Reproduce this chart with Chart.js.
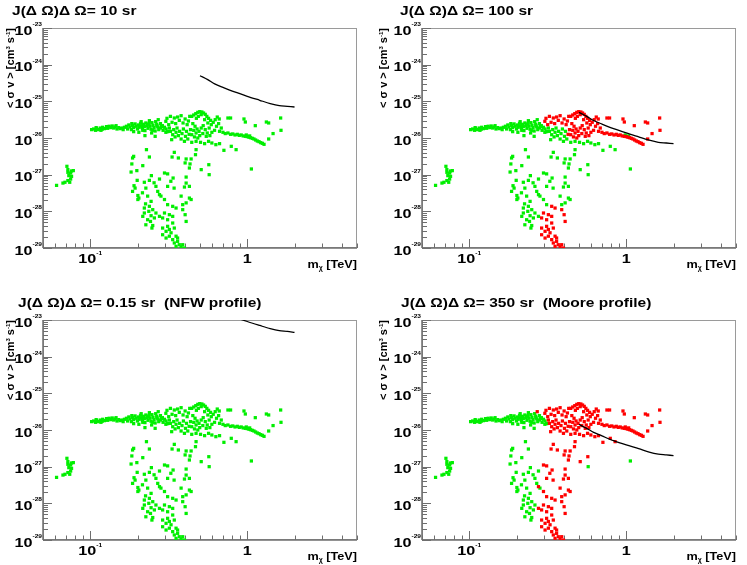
<!DOCTYPE html>
<html lang="en">
<head>
<meta charset="UTF-8">
<title>Annihilation cross section vs mass</title>
<script src="https://cdn.jsdelivr.net/npm/chart.js"></script>
<style>
  body { margin: 0; background: #fff; }
  #wrap { position: relative; width: 747px; height: 565px; }
  canvas { position: absolute; }
</style>
</head>
<body>
<div id="wrap">
  <canvas id="p10" width="373" height="280" style="left:0;top:0"></canvas>
  <canvas id="p100" width="374" height="280" style="left:373px;top:0"></canvas>
  <canvas id="p015" width="373" height="285" style="left:0;top:280px"></canvas>
  <canvas id="p350" width="374" height="285" style="left:373px;top:280px"></canvas>
</div>
<script>
// model points [m_chi (TeV), <sigma v> (cm^3 s^-1)]
// green in every panel
const greenAll = [
  [0.061,5.1e-28],[0.067,5.9e-28],[0.069,6.2e-28],[0.071,1.69e-27],[0.072,1.16e-27],[0.073,9.4e-28],
  [0.075,1.11e-27],[0.076,1.26e-27],[0.078,1.29e-27],[0.072,6.9e-28],[0.075,7.6e-28],[0.076,9.0e-28],
  [0.074,6.2e-28],[0.072,1.37e-27],
  [0.102,1.69e-26],[0.105,1.76e-26],[0.108,1.62e-26],[0.110,1.84e-26],[0.113,1.69e-26],[0.116,1.87e-26],
  [0.119,1.73e-26],[0.120,1.96e-26],[0.123,1.80e-26],[0.127,2.04e-26],[0.129,1.84e-26],[0.132,2.09e-26],
  [0.135,1.92e-26],[0.138,2.13e-26],[0.141,1.87e-26],[0.144,2.00e-26],[0.148,1.76e-26],[0.152,1.92e-26],
  [0.155,1.80e-26],[0.160,1.87e-26],[0.165,1.96e-26],[0.170,2.09e-26],[0.173,1.76e-26],[0.176,2.27e-26],
  [0.179,2.00e-26],[0.183,1.69e-26],[0.186,2.22e-26],[0.189,1.92e-26],[0.193,2.42e-26],[0.196,2.09e-26],
  [0.200,1.76e-26],[0.203,2.27e-26],[0.205,1.96e-26],[0.209,2.52e-26],[0.212,2.13e-26],[0.215,1.80e-26],
  [0.218,2.37e-26],[0.221,2.04e-26],[0.223,1.59e-26],[0.226,2.57e-26],[0.230,2.17e-26],[0.233,1.84e-26],
  [0.237,2.47e-26],[0.240,2.09e-26],[0.244,1.73e-26],[0.247,2.62e-26],[0.251,2.22e-26],[0.255,1.92e-26],
  [0.259,1.55e-26],[0.261,2.79e-26],[0.265,2.37e-26],[0.269,2.00e-26],[0.273,1.69e-26],[0.223,1.16e-26],
  [0.259,1.11e-26],[0.246,1.37e-26],[0.204,1.43e-26],[0.189,1.49e-26],[0.238,2.97e-26],[0.211,2.79e-26],
  [0.109,1.92e-26],[0.117,1.62e-26],[0.146,2.17e-26],[0.162,1.69e-26],[0.184,2.47e-26],[0.216,1.62e-26],
  [0.232,2.37e-26],[0.250,1.62e-26],[0.266,2.17e-26],[0.280,1.87e-26],[0.280,2.47e-26],[0.284,2.05e-26],
  [0.288,2.17e-26],[0.291,1.62e-26],[0.297,1.96e-26],[0.304,1.76e-26],[0.311,1.49e-26],[0.303,1.43e-26],
  [0.228,4.81e-27],[0.189,3.16e-27],[0.186,2.85e-27],[0.184,1.96e-27],[0.182,1.18e-27],[0.198,1.29e-27],
  [0.238,3.03e-27],[0.216,1.76e-27],[0.245,9.4e-28],[0.199,7.0e-28],[0.193,4.3e-28],[0.186,3.5e-28],
  [0.201,2.7e-28],[0.204,2.3e-28],[0.238,7.0e-28],[0.276,7.6e-28],[0.226,4.3e-28],[0.262,4.8e-28],
  [0.269,3.5e-28],[0.201,2.1e-28],[0.232,2.6e-28],[0.244,1.87e-28],[0.238,1.37e-28],[0.221,1.23e-28],
  [0.250,1.11e-28],[0.236,1.0e-28],[0.216,7.3e-29],[0.244,7.6e-29],[0.232,5.9e-29],[0.256,6.6e-29],
  [0.226,4.3e-29],[0.250,4.1e-29],[0.247,3.5e-29],[0.282,2.6e-28],[0.221,9.0e-29],[0.242,5.3e-29],
  [0.262,9.0e-29],[0.190,5.0e-28],[0.221,6.2e-28],[0.255,6.0e-28],[0.215,3.2e-28],[0.225,1.6e-28],
  [0.572,1.0e-27],[1.062,1.43e-27]
];
// red only at 350 sr
const red350 = [
  [0.319,1.87e-26],[0.324,1.52e-26],[0.330,9.0e-27],[0.335,1.23e-26],[0.340,1.69e-26],[0.347,1.07e-26],
  [0.352,1.43e-26],[0.357,1.87e-26],[0.364,1.16e-26],[0.371,1.52e-26],[0.379,9.39e-27],[0.384,1.32e-26],
  [0.392,1.76e-26],[0.398,8.11e-27],[0.404,1.11e-26],[0.410,1.52e-26],[0.418,9.39e-27],[0.443,7.62e-27],
  [0.504,7.62e-27],[0.535,7.01e-27],[0.567,8.11e-27],[0.595,7.31e-27],[0.631,6.58e-27],[0.666,7.01e-27],
  [0.472,8.11e-27],[0.986,1.21e-26],[1.036,1.14e-26],[0.849,4.81e-27],[0.710,4.61e-27],[0.791,5.93e-27],
  [0.271,3.16e-26],
  [0.332,3.03e-27],[0.343,4.06e-27],[0.364,2.85e-27],[0.408,2.68e-27],[0.439,2.68e-27],[0.468,3.51e-27],
  [0.472,4.81e-27],[0.402,2.09e-27],[0.428,1.52e-27],[0.432,1.96e-27],[0.569,1.87e-27],[0.509,1.37e-27],
  [0.297,1.11e-27],[0.311,1.05e-27],[0.337,8.1e-28],[0.408,8.6e-28],[0.408,5.9e-28],[0.398,4.6e-28],
  [0.428,4.8e-28],[0.311,4.8e-28],[0.276,2.85e-28],[0.297,2.1e-28],[0.311,1.52e-28],[0.388,1.52e-28],
  [0.408,1.7e-28],[0.428,2.3e-28],[0.439,2.1e-28],[0.379,2.6e-28],[0.276,7.3e-29],[0.326,6.6e-28],
  [0.342,4.3e-28]
];
// red at 100 sr and 350 sr
const red100 = [
  [0.303,2.85e-26],[0.308,3.44e-26],[0.316,2.31e-26],[0.324,3.89e-26],[0.332,2.68e-26],[0.343,3.51e-26],
  [0.350,2.47e-26],[0.360,3.73e-26],[0.369,3.03e-26],[0.379,4.06e-26],[0.390,2.57e-26],[0.402,3.30e-26],
  [0.414,2.31e-26],[0.422,2.91e-26],[0.430,3.89e-26],[0.426,1.26e-26],[0.435,1.69e-26],
  [0.443,3.89e-26],[0.456,4.24e-26],[0.470,4.61e-26],[0.484,5.01e-26],[0.498,5.23e-26],[0.514,5.12e-26],
  [0.527,4.80e-26],[0.540,4.41e-26],[0.509,4.33e-26],[0.488,3.89e-26],[0.474,3.44e-26],[0.553,3.89e-26],
  [0.567,3.44e-26],[0.584,3.03e-26],[0.561,2.57e-26],[0.535,3.16e-26],
  [0.450,2.47e-26],[0.465,2.09e-26],[0.479,1.76e-26],[0.493,1.52e-26],[0.509,1.87e-26],[0.524,2.17e-26],
  [0.540,1.69e-26],[0.556,1.37e-26],[0.572,1.87e-26],[0.590,2.31e-26],[0.607,2.68e-26],[0.625,3.16e-26],
  [0.637,2.09e-26],[0.657,2.47e-26],[0.619,1.62e-26],[0.595,1.43e-26],[0.578,1.16e-26],[0.548,1.11e-26],
  [0.521,1.32e-26],[0.498,1.16e-26],[0.472,1.37e-26],[0.456,1.62e-26],[0.443,1.23e-26],[0.461,1.07e-26],
  [0.484,1.0e-26],[0.666,1.52e-26],[0.683,1.87e-26],
  [0.700,1.43e-26],[0.724,1.32e-26],[0.753,1.37e-26],[0.783,1.26e-26],[0.809,1.29e-26],[0.836,1.21e-26],
  [0.864,1.26e-26],[0.888,1.18e-26],[0.915,1.21e-26],[0.942,1.14e-26],[0.972,1.11e-26],[1.000,1.09e-26],
  [1.025,1.05e-26],[1.051,1.02e-26],[1.077,9.79e-27],[1.103,9.39e-27],[1.131,8.82e-27],[1.159,8.28e-27],
  [1.188,7.94e-27],[1.218,7.46e-27],[1.248,7.16e-27],[1.279,6.72e-27],
  [0.753,3.51e-26],[0.783,3.51e-26],[0.953,3.30e-26],[0.972,2.73e-26],[1.125,2.17e-26],[1.323,2.73e-26],
  [1.369,2.57e-26],[1.632,3.51e-26],[1.640,1.62e-26],[1.460,1.32e-26],[1.369,9.39e-27],[0.644,3.73e-26],
  [0.663,3.30e-26],
  [0.335,1.37e-28],[0.352,1.23e-28],[0.388,1.11e-28],[0.402,8.1e-29],[0.408,5.3e-29],[0.335,7.3e-29],
  [0.319,8.1e-29],[0.297,9.0e-29],[0.289,6.6e-29],[0.311,5.9e-29],[0.335,4.8e-29],[0.311,3.9e-29],
  [0.289,3.5e-29],[0.319,3.2e-29],[0.343,3.5e-29],[0.289,2.3e-29],[0.304,1.87e-29],[0.319,2.1e-29],
  [0.335,1.69e-29],[0.352,2.1e-29],[0.343,1.37e-29],[0.360,1.52e-29],[0.369,1.23e-29],[0.388,1.23e-29],
  [0.352,1.11e-29],[0.379,1.07e-29],[0.398,1.0e-29],[0.408,9.0e-30],[0.327,2.6e-29],[0.360,1.87e-29],
  [0.304,2.85e-29]
];

// sensitivity curves, one per J(dOmega)dOmega
const limitMass = [0.5, 0.56, 0.62, 0.7, 0.83, 1.0, 1.2, 1.4, 1.6, 1.8, 2.0];
const limit10  = [5.0e-25, 3.9e-25, 3.0e-25, 2.4e-25, 1.8e-25, 1.37e-25, 1.07e-25, 8.7e-26, 7.6e-26, 7.3e-26, 7.0e-26];
const limit100 = [5.0e-26, 3.9e-26, 3.0e-26, 2.4e-26, 1.8e-26, 1.37e-26, 1.07e-26, 8.7e-27, 7.6e-27, 7.3e-27, 7.0e-27];
const limit015 = [3.3e-23, 2.6e-23, 2.0e-23, 1.6e-23, 1.2e-23, 9.1e-24, 7.1e-24, 5.8e-24, 5.1e-24, 4.9e-24, 4.6e-24];
const limit350 = [1.43e-26, 1.11e-26, 8.6e-27, 6.9e-27, 5.1e-27, 3.9e-27, 3.1e-27, 2.5e-27, 2.2e-27, 2.1e-27, 2.0e-27];

// axis ticks
const yExps = [-29, -28, -27, -26, -25, -24, -23];
const xTicks = [0.05, 0.06, 0.07, 0.08, 0.09, 0.1, 0.2, 0.3, 0.4, 0.5, 0.6, 0.7, 0.8, 0.9, 1, 2, 3, 4, 5];
const xMajor = [0.1, 1];
const xLabels = [['10', '-1'], ['1', '']];

const FONT = '"Liberation Sans", Arial, Helvetica, sans-serif';

function rich(ctx, x, y, parts, align) {
  let w = 0;
  parts.forEach(p => {
    ctx.font = 'bold ' + p.s + 'px ' + FONT;
    p.w = ctx.measureText(p.t).width * (p.sx || 1);
    w += p.w;
  });
  let cx = align === 'right' ? x - w : align === 'center' ? x - w / 2 : x;
  parts.forEach(p => {
    ctx.save();
    ctx.font = 'bold ' + p.s + 'px ' + FONT;
    ctx.translate(cx, y + (p.dy || 0));
    ctx.scale(p.sx || 1, 1);
    ctx.fillText(p.t, 0, 0);
    ctx.restore();
    cx += p.w;
  });
}

function seg(ctx, x1, y1, x2, y2) {
  ctx.beginPath(); ctx.moveTo(x1, y1); ctx.lineTo(x2, y2); ctx.stroke();
}

const decor = {
  id: 'decor',
  beforeDatasetsDraw(chart) {
    const { ctx, chartArea: a, scales: { x, y } } = chart;
    ctx.save();
    ctx.strokeStyle = '#9a9a9a';
    ctx.lineWidth = 1;
    ctx.strokeRect(a.left + 0.5, a.top + 0.5, a.right - a.left - 1, a.bottom - a.top - 1);
    ctx.strokeStyle = '#6e6e6e';
    ctx.lineWidth = 1.5;
    seg(ctx, a.left, a.top, a.left, a.bottom);
    seg(ctx, a.left, a.bottom, a.right, a.bottom);
    ctx.lineWidth = 1;
    // y ticks + labels
    ctx.fillStyle = '#000';
    yExps.forEach(e => {
      for (let m = 1; m < 10; m++) {
        if (e === -23 && m > 1) break;
        const py = Math.round(y.getPixelForValue(m * Math.pow(10, e))) + 0.5;
        seg(ctx, a.left, py, a.left + (m === 1 ? 9 : 5), py);
      }
      const py = y.getPixelForValue(Math.pow(10, e));
      rich(ctx, a.left - 1, py + 6.5, [
        { t: '10', s: 12, sx: 1.35 },
        { t: String(e), s: 6, sx: 1.1, dy: -8.5 }
      ], 'right');
    });
    // x ticks + labels
    xTicks.forEach(v => {
      const px = Math.round(x.getPixelForValue(v)) + 0.5;
      seg(ctx, px, a.bottom, px, a.bottom - (xMajor.includes(v) ? 9 : 4.5));
    });
    xMajor.forEach((v, i) => {
      const px = x.getPixelForValue(v);
      const parts = [{ t: xLabels[i][0], s: 12, sx: 1.35 }];
      if (xLabels[i][1]) parts.push({ t: xLabels[i][1], s: 6, sx: 1.1, dy: -8.5 });
      rich(ctx, px, a.bottom + 15, parts, 'center');
    });
    // axis titles
    rich(ctx, a.right, a.bottom + 20, [
      { t: 'm', s: 11, sx: 1.15 },
      { t: '\u03C7', s: 7, dy: 2 },
      { t: ' [TeV]', s: 11, sx: 1.15 }
    ], 'right');
    ctx.save();
    ctx.translate(14, a.top);
    ctx.rotate(-Math.PI / 2);
    rich(ctx, 0, 0, [
      { t: '< \u03C3 v > [cm', s: 10.5, sx: 1.05 },
      { t: '3', s: 6, dy: -4 },
      { t: ' s', s: 10.5, sx: 1.05 },
      { t: '-1', s: 6, dy: -4 },
      { t: ']', s: 10.5, sx: 1.05 }
    ], 'right');
    ctx.restore();
    // panel title
    const o = chart.options.plugins.decor;
    rich(ctx, o.tx, o.ty, [{ t: o.title, s: 13.5, sx: 1.15 }], 'left');
    ctx.restore();
  }
};

function pts(list) { return list.map(p => ({ x: p[0], y: p[1] })); }

function panel(id, title, tx, ty, pad, green, red, limit) {
  const dot = { pointStyle: 'rect', pointRadius: 2.3, pointBorderWidth: 0, showLine: false };
  new Chart(document.getElementById(id), {
    type: 'scatter',
    data: {
      datasets: [
        { data: limitMass.map((m, i) => ({ x: m, y: limit[i] })), showLine: true, borderColor: '#000',
          borderWidth: 1.3, pointRadius: 0, tension: 0.3, order: 0 },
        Object.assign({ data: pts(red), backgroundColor: '#ff0000', pointBackgroundColor: '#ff0000', order: 1 }, dot),
        Object.assign({ data: pts(green), backgroundColor: '#00ee00', pointBackgroundColor: '#00ee00', order: 2 }, dot)
      ]
    },
    options: {
      responsive: false,
      animation: false,
      events: [],
      layout: { padding: pad, autoPadding: false },
      plugins: { legend: { display: false }, tooltip: { enabled: false }, decor: { title, tx, ty } },
      scales: {
        x: { type: 'logarithmic', min: 0.05, max: 5, display: false },
        y: { type: 'logarithmic', min: 1e-29, max: 1e-23, display: false }
      }
    },
    plugins: [decor]
  });
}

const all = greenAll.concat(red350, red100);
const J = 'J(\u0394 \u03A9)\u0394 \u03A9= ';
panel('p10', J + '10 sr', 12, 15, { left: 43, right: 16, top: 28, bottom: 32 }, all, [], limit10);
panel('p100', J + '100 sr', 27, 15, { left: 49, right: 11, top: 28, bottom: 32 }, greenAll.concat(red350), red100, limit100);
panel('p015', J + '0.15 sr  (NFW profile)', 18, 27, { left: 43, right: 16, top: 40, bottom: 25 }, all, [], limit015);
panel('p350', J + '350 sr  (Moore profile)', 28, 27, { left: 49, right: 11, top: 40, bottom: 25 }, greenAll, red350.concat(red100), limit350);
</script>
</body>
</html>
